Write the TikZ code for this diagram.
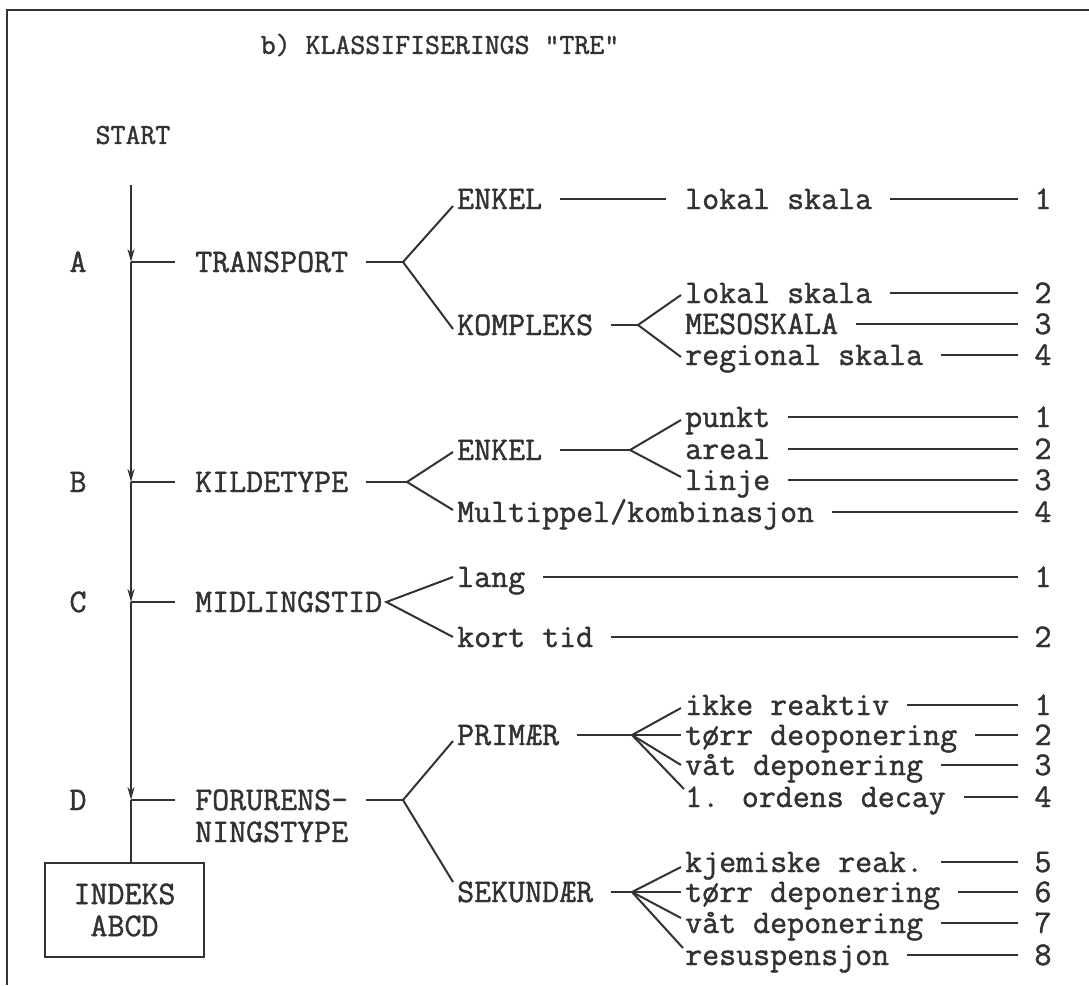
\documentclass[tikz,border=0pt]{standalone}
\usepackage{fontspec}
\usetikzlibrary{arrows.meta,calc}
\newfontfamily\ctt[FakeBold=1.3]{Latin Modern Mono}
\definecolor{ink}{RGB}{50,50,50}
\newcommand{\tfont}{\ctt\fontsize{33}{32}\selectfont}
\newcommand{\sfontt}{\ctt\fontsize{29}{30}\selectfont}
\begin{document}
\begin{tikzpicture}[x=1pt,y=-1pt,
  lbl/.style={font=\tfont, text=ink, inner xsep=4pt, inner ysep=0pt, text height=20pt, text depth=0pt, anchor=west},
  num/.style={lbl, anchor=center},
  letter/.style={lbl, anchor=center},
  ln/.style={draw=ink, line width=2pt},
  gap/.style={shorten <=14pt},
  endgap/.style={shorten >=12pt},
  flow/.style={ln, -{Stealth[length=13pt,width=7pt]}},
]
\useasboundingbox (0,0) rectangle (1089,985);
% frame
\draw[ink, line width=2.2pt] (1089,10) -- (7,10) -- (7,985);

% title and start
\node[font=\sfontt, text=ink] (title) at (440,45) {b) KLASSIFISERINGS "TRE"};
\node[font=\sfontt, text=ink] (start) at (133,135) {START};

% letters
\node[letter] (la) at (78,262) {A};
\node[letter] (lb) at (78,482) {B};
\node[letter] (lc) at (78,602) {C};
\node[letter] (ld) at (78,800) {D};

% level 1
\node[lbl] (transport) at (191,262) {TRANSPORT};
\node[lbl] (kildetype) at (191,482) {KILDETYPE};
\node[lbl] (midling) at (191,602) {MIDLINGSTID};
\node[lbl] (forurens) at (191,800) {FORURENS-};
\node[lbl] (ningstype) at (191,832) {NINGSTYPE};

% level 2
\node[lbl] (enkelA) at (453,199) {ENKEL};
\node[lbl] (kompleks) at (453,325) {KOMPLEKS};
\node[lbl] (enkelB) at (453,450) {ENKEL};
\node[lbl] (multippel) at (453,512) {Multippel/kombinasjon};
\node[lbl] (lang) at (453,577) {lang};
\node[lbl] (korttid) at (453,637) {kort tid};
\node[lbl] (primaer) at (453,735) {PRIMÆR};
\node[lbl] (sekundaer) at (453,892) {SEKUNDÆR};

% level 3
\node[lbl] (lokalA) at (681,199) {lokal skala};
\node[lbl] (lokalK) at (681,293) {lokal skala};
\node[lbl] (meso) at (681,324) {MESOSKALA};
\node[lbl] (regional) at (681,355) {regional skala};
\node[lbl] (punkt) at (681,417) {punkt};
\node[lbl] (areal) at (681,449) {areal};
\node[lbl] (linje) at (681,480) {linje};
\node[lbl] (ikke) at (681,705) {ikke reaktiv};
\node[lbl] (torrP) at (681,735) {tørr deoponering};
\node[lbl] (vaatP) at (681,765) {våt deponering};
\node[lbl] (orden) at (681,797) {1. ordens decay};
\node[lbl] (kjem) at (681,862) {kjemiske reak.};
\node[lbl] (torrS) at (681,892) {tørr deponering};
\node[lbl] (vaatS) at (681,923) {våt deponering};
\node[lbl] (resus) at (681,955) {resuspensjon};

% numbers
\node[num] (n1) at (1043,199) {1};
\node[num] (n2) at (1043,293) {2};
\node[num] (n3) at (1043,324) {3};
\node[num] (n4) at (1043,355) {4};
\node[num] (n5) at (1043,417) {1};
\node[num] (n6) at (1043,449) {2};
\node[num] (n7) at (1043,480) {3};
\node[num] (n8) at (1043,512) {4};
\node[num] (n9) at (1043,577) {1};
\node[num] (n10) at (1043,637) {2};
\node[num] (n11) at (1043,705) {1};
\node[num] (n12) at (1043,735) {2};
\node[num] (n13) at (1043,765) {3};
\node[num] (n14) at (1043,797) {4};
\node[num] (n15) at (1043,862) {5};
\node[num] (n16) at (1043,892) {6};
\node[num] (n17) at (1043,923) {7};
\node[num] (n18) at (1043,955) {8};

% index box
\node[draw=ink, line width=2pt, font=\tfont, text=ink, align=center,
      minimum width=159pt, minimum height=94pt, inner sep=0pt] (indeks) at (124.5,910) {INDEKS\\ABCD};

% main flow
\coordinate (top) at (131,185);
\coordinate (jA) at (131,262);
\coordinate (jB) at (131,482);
\coordinate (jC) at (131,602);
\coordinate (jD) at (131,800);
\draw[flow] (top) -- (jA);
\draw[flow] (jA) -- (jB);
\draw[flow] (jB) -- (jC);
\draw[flow] (jC) -- (jD);
\draw[ln] (jD) -- (jD |- indeks.north);
\foreach \j/\n in {jA/transport, jB/kildetype, jC/midling, jD/forurens}
  \draw[ln, shorten >=16pt] (\j) -- (\n.west);

% forks
\coordinate (fA) at (403,262);
\coordinate (fK) at (638,325);
\coordinate (fB) at (407,482);
\coordinate (fEB) at (630,450);
\coordinate (fD) at (403,800);
\coordinate (fP) at (632,735);
\coordinate (fS) at (632,892);

% A
\draw[ln, gap] (transport.east) -- (fA);
\draw[ln] (fA) -- ($(enkelA.west)+(0,7)$);
\draw[ln] (fA) -- ($(kompleks.west)+(0,4)$);
\draw[ln, gap, shorten >=15pt] (enkelA.east) -- (lokalA.west);
\draw[ln, gap] (kompleks.east) -- (fK);
\draw[ln] (fK) -- ($(lokalK.west)+(0,2)$);
\draw[ln] (fK) -- ($(regional.west)+(0,2)$);

% B
\draw[ln, gap] (kildetype.east) -- (fB);
\draw[ln] (fB) -- ($(enkelB.west)+(0,2)$);
\draw[ln] (fB) -- ($(multippel.west)+(0,-2)$);
\draw[ln, gap] (enkelB.east) -- (fEB);
\draw[ln] (fEB) -- ($(punkt.west)+(0,3)$);
\draw[ln] (fEB) -- ($(linje.west)+(0,-3)$);

% C
\draw[ln] (lang.west) -- (midling.east) -- (korttid.west);

% D
\draw[ln, gap] (forurens.east) -- (fD);
\draw[ln] (fD) -- ($(primaer.west)+(0,6)$);
\draw[ln] (fD) -- ($(sekundaer.west)+(0,-10)$);
\draw[ln, gap] (primaer.east) -- (fP);
\draw[ln] (fP) -- ($(ikke.west)+(0,3)$);
\draw[ln] (fP) -- (torrP.west);
\draw[ln] (fP) -- (vaatP.west);
\draw[ln] (fP) -- ($(orden.west)+(3,-8)$);
\draw[ln, gap] (sekundaer.east) -- (fS);
\draw[ln] (fS) -- ($(kjem.west)+(0,5)$);
\draw[ln] (fS) -- (torrS.west);
\draw[ln] (fS) -- ($(vaatS.west)+(0,-5)$);
\draw[ln] (fS) -- ($(resus.west)+(2,-7)$);

% lines to numbers
\foreach \a/\b in {lokalA/n1, lokalK/n2, meso/n3, regional/n4, punkt/n5, areal/n6, linje/n7,
  multippel/n8, lang/n9, korttid/n10, ikke/n11, torrP/n12, vaatP/n13, orden/n14,
  kjem/n15, torrS/n16, vaatS/n17, resus/n18}
  \draw[ln, gap, endgap] (\a.east) -- (\b.west);
\end{tikzpicture}
\end{document}
